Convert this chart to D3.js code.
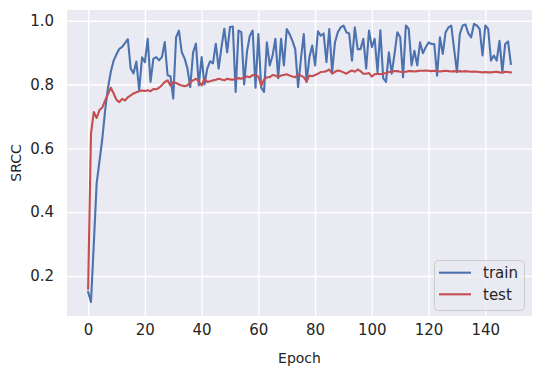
<!DOCTYPE html>
<html>
<head>
<meta charset="utf-8">
<script src="https://cdn.jsdelivr.net/npm/d3@7"></script>
<style>
    body { margin: 0; background: #ffffff; }
    text { font-family: "DejaVu Sans", sans-serif; fill: #262626; }
</style>
</head>
<body>
<div id="chart"></div>
<script>
// SRCC per epoch
var train = [
    0.150, 0.118, 0.300, 0.490, 0.560, 0.630, 0.720, 0.790, 0.840, 0.875,
    0.895, 0.912, 0.918, 0.930, 0.942, 0.850, 0.835, 0.872, 0.782, 0.885,
    0.870, 0.943, 0.808, 0.881, 0.886, 0.876, 0.886, 0.933, 0.829, 0.826,
    0.756, 0.948, 0.969, 0.901, 0.882, 0.850, 0.792, 0.901, 0.928, 0.797,
    0.886, 0.800, 0.850, 0.873, 0.866, 0.928, 0.850, 0.917, 0.975, 0.901,
    0.980, 0.982, 0.777, 0.969, 0.964, 0.800, 0.904, 0.953, 0.969, 0.790,
    0.958, 0.790, 0.777, 0.932, 0.860, 0.890, 0.943, 0.820, 0.943, 0.860,
    0.974, 0.958, 0.937, 0.911, 0.792, 0.880, 0.958, 0.808, 0.886, 0.922,
    0.860, 0.967, 0.953, 0.960, 0.870, 0.974, 0.839, 0.932, 0.964, 0.979,
    0.985, 0.964, 0.960, 0.875, 0.979, 0.911, 0.911, 0.943, 0.850, 0.969,
    0.917, 0.943, 0.839, 0.970, 0.820, 0.808, 0.901, 0.834, 0.896, 0.964,
    0.948, 0.823, 0.985, 0.974, 0.860, 0.906, 0.860, 0.932, 0.898, 0.917,
    0.932, 0.927, 0.927, 0.828, 0.948, 0.896, 0.964, 0.979, 0.985, 0.911,
    0.839, 0.958, 0.985, 0.988, 0.960, 0.948, 0.990, 0.985, 0.974, 0.891,
    0.985, 0.974, 0.875, 0.891, 0.875, 0.937, 0.839, 0.927, 0.935, 0.865
];

var test = [
    0.160, 0.645, 0.714, 0.695, 0.720, 0.728, 0.750, 0.770, 0.790, 0.772,
    0.752, 0.745, 0.755, 0.750, 0.760, 0.766, 0.772, 0.776, 0.779, 0.781,
    0.780, 0.782, 0.779, 0.786, 0.785, 0.790, 0.798, 0.808, 0.813, 0.797,
    0.808, 0.805, 0.800, 0.797, 0.795, 0.797, 0.808, 0.813, 0.818, 0.810,
    0.797, 0.818, 0.808, 0.810, 0.813, 0.815, 0.818, 0.816, 0.813, 0.818,
    0.816, 0.815, 0.818, 0.820, 0.818, 0.822, 0.825, 0.823, 0.830, 0.828,
    0.825, 0.797, 0.815, 0.823, 0.823, 0.830, 0.828, 0.823, 0.828, 0.830,
    0.832, 0.828, 0.825, 0.823, 0.832, 0.828, 0.823, 0.810, 0.828, 0.826,
    0.830, 0.834, 0.839, 0.840, 0.842, 0.847, 0.834, 0.840, 0.844, 0.842,
    0.838, 0.834, 0.840, 0.844, 0.840, 0.847, 0.842, 0.834, 0.834, 0.836,
    0.825, 0.832, 0.834, 0.832, 0.834, 0.836, 0.839, 0.840, 0.842, 0.842,
    0.840, 0.839, 0.840, 0.842, 0.842, 0.841, 0.842, 0.843, 0.843, 0.844,
    0.843, 0.842, 0.843, 0.842, 0.841, 0.842, 0.843, 0.842, 0.841, 0.842,
    0.841, 0.842, 0.841, 0.842, 0.841, 0.840, 0.841, 0.840, 0.839, 0.838,
    0.839, 0.838, 0.838, 0.839, 0.840, 0.838, 0.837, 0.840, 0.839, 0.838
];

var xTicks = [0, 20, 40, 60, 80, 100, 120, 140];
var yTicks = [0.2, 0.4, 0.6, 0.8, 1.0];
var seriesNames = ["train", "test"];
var seriesColors = ["#4c72b0", "#c44e52"];

function init() {
    var w = 542;
    var h = 375;
    var left = 67, right = 532, top = 10, bottom = 316;

    var svg = d3.select("#chart")
        .append("svg")
        .attr("width", w)
        .attr("height", h);

    var series = [train, test];

    // matplotlib style 5% margins around the data
    var n = train.length - 1;
    var xScale = d3.scaleLinear()
        .domain([-0.05 * n, n * 1.05])
        .range([left, right]);

    var all = train.concat(test);
    var lo = d3.min(all), hi = d3.max(all);
    var yScale = d3.scaleLinear()
        .domain([lo - 0.05 * (hi - lo), hi + 0.05 * (hi - lo)])
        .range([bottom, top]);

    // axes background
    svg.append("rect")
        .attr("x", left)
        .attr("y", top)
        .attr("width", right - left)
        .attr("height", bottom - top)
        .attr("fill", "#eaeaf2");

    // grid via axes with full-length ticks
    var xAxis = d3.axisBottom(xScale)
        .tickValues(xTicks)
        .tickSize(-(bottom - top))
        .tickPadding(8)
        .tickFormat(d3.format("d"));

    var gx = svg.append("g")
        .attr("transform", "translate(0," + bottom + ")")
        .call(xAxis);

    var yAxis = d3.axisLeft(yScale)
        .tickValues(yTicks)
        .tickSize(-(right - left))
        .tickPadding(13)
        .tickFormat(d3.format(".1f"));

    var gy = svg.append("g")
        .attr("transform", "translate(" + left + ",0)")
        .call(yAxis);

    [gx, gy].forEach(function(g) {
        g.select(".domain").remove();
        g.selectAll(".tick line")
            .attr("stroke", "#ffffff")
            .attr("stroke-width", 1.4);
        g.selectAll(".tick text")
            .attr("font-size", "15px")
            .attr("fill", "#262626");
    });

    // lines
    var line = d3.line()
        .x(function(d, i) { return xScale(i); })
        .y(function(d) { return yScale(d); });

    series.forEach(function(s, k) {
        svg.append("path")
            .datum(s)
            .attr("d", line)
            .attr("fill", "none")
            .attr("stroke", seriesColors[k])
            .attr("stroke-width", 2.1)
            .attr("stroke-linejoin", "round")
            .attr("stroke-linecap", "square");
    });

    // axis labels
    svg.append("text")
        .attr("text-anchor", "middle")
        .attr("x", (left + right) / 2)
        .attr("y", 363)
        .attr("font-size", "14px")
        .text("Epoch");

    svg.append("text")
        .attr("text-anchor", "middle")
        .attr("transform", "rotate(-90)")
        .attr("x", -(top + bottom) / 2)
        .attr("y", 21)
        .attr("font-size", "14px")
        .text("SRCC");

    // legend
    var legend = svg.append("g");
    legend.append("rect")
        .attr("x", 434.5)
        .attr("y", 260.5)
        .attr("width", 90)
        .attr("height", 50)
        .attr("rx", 4)
        .attr("fill", "#eaeaf2")
        .attr("fill-opacity", 0.8)
        .attr("stroke", "#cccccc")
        .attr("stroke-width", 1);

    seriesNames.forEach(function(name, k) {
        var cy = 272.7 + k * 21.6;
        legend.append("line")
            .attr("x1", 439)
            .attr("x2", 471)
            .attr("y1", cy)
            .attr("y2", cy)
            .attr("stroke", seriesColors[k])
            .attr("stroke-width", 2.1);
        legend.append("text")
            .attr("x", 483)
            .attr("y", cy + 5.5)
            .attr("font-size", "15px")
            .text(name);
    });
}
window.onload = init;
</script>
</body>
</html>
